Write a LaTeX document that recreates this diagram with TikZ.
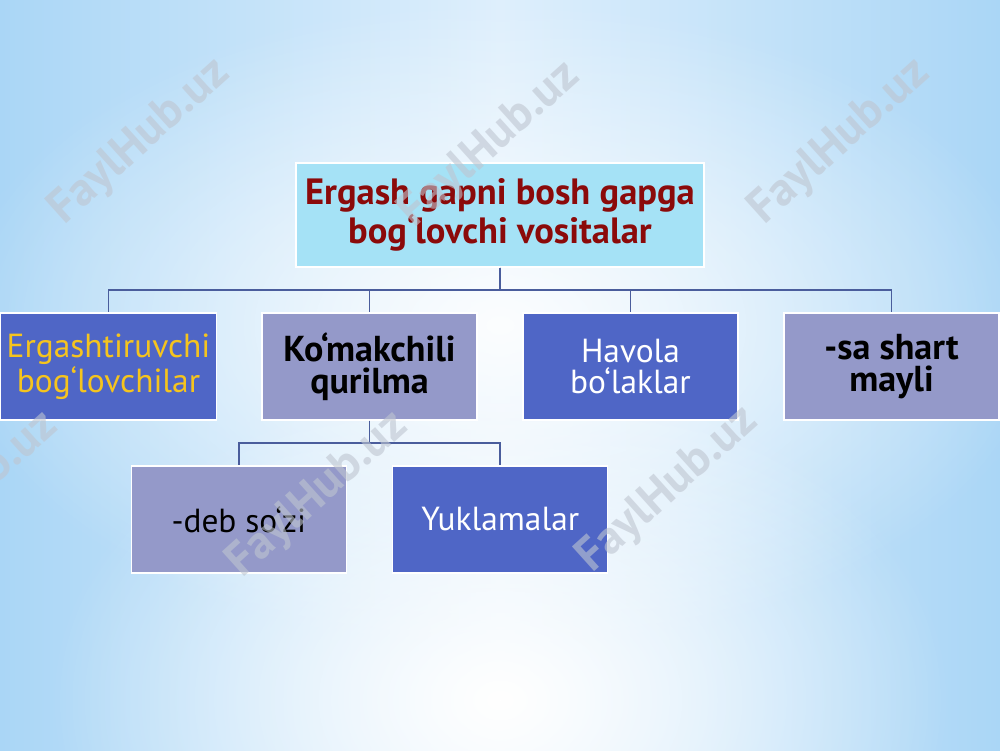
\documentclass[tikz,border=0pt]{standalone}
\usepackage{fontspec}
\setmainfont{PT Sans}
\usetikzlibrary{trees, calc, fadings}
\definecolor{sideblue}{RGB}{170,214,246}
\definecolor{paleblue}{RGB}{222,239,252}
\definecolor{rootcyan}{RGB}{165,226,246}
\definecolor{titlered}{RGB}{139,10,10}
\definecolor{deepblue}{RGB}{79,102,198}
\definecolor{lavender}{RGB}{148,153,201}
\definecolor{boxyellow}{RGB}{245,196,30}
\definecolor{linkblue}{RGB}{74,93,156}
\definecolor{markgray}{RGB}{190,197,208}
\tikzfading[name=glow, inner color=transparent!0, outer color=transparent!100]
\def \EGBG {Ergash gapni bosh gapga\\bog‘lovchi vositalar}

\begin{document}
\begin{tikzpicture}[
	  rootbox/.style={
	  	rectangle,
	  	draw=white,
	  	line width=0.6pt,
	  	fill=rootcyan,
	  	text=titlered,
	  	font=\bfseries\fontsize{20.8}{21}\selectfont,
	  	minimum width=8.16cm,
	  	minimum height=2.08cm,
	  	align=center
	  },
	  darkbox/.style={
		  rectangle,
		  draw=white,
		  line width=0.6pt,
		  fill=deepblue,
		  text=white,
		  font=\fontsize{19}{18}\selectfont,
		  minimum width=4.3cm,
		  minimum height=2.14cm,
		  align=center
	  },
	  lightbox/.style={
		  rectangle,
		  draw=white,
		  line width=0.6pt,
		  fill=lavender,
		  text=black,
		  font=\fontsize{19}{18}\selectfont,
		  minimum width=4.3cm,
		  minimum height=2.14cm,
		  align=center
	  },
	  boldtext/.style={font=\bfseries\fontsize{20.5}{18}\selectfont},
	  watermark/.style={
		  rotate=42,
		  text=markgray,
		  opacity=0.6,
		  font=\bfseries\fontsize{27}{27}\selectfont
	  },
	  edge from parent/.style={draw=linkblue, line width=1.1pt},
	  edge from parent fork mid/.style={
		  edge from parent path={(\tikzparentnode.south) |- ($(\tikzparentnode.south)!.5!(\tikzchildnode.north)$) -| (\tikzchildnode.north)}
	  },
	  level 1/.style={sibling distance=5.22cm, level distance=3.03cm},
	  level 2/.style={sibling distance=5.23cm, level distance=3.06cm}]
	% Background
	\useasboundingbox (0,0) rectangle (20,15);
	\shade[left color=sideblue, right color=sideblue, middle color=paleblue] (0,0) rectangle (20,15);
	\fill[white, opacity=0.9, path fading=glow] (10,8.5) ellipse (11 and 6.5);
	\fill[white, path fading=glow] (10,1) ellipse (9 and 6.5);
	% Root
	\node[rootbox] (root) at (10,10.7) {\EGBG}
		[edge from parent fork mid]
		% Children
		child {node[darkbox, text=boxyellow] (ergash) {Ergashtiruvchi\\bog‘lovchilar}}
		child {node[lightbox, boldtext] (komak) {Ko‘makchili\\qurilma}
			child {node[lightbox] (deb) {-deb so‘zi}}
			child {node[darkbox] (yukla) {Yuklamalar}}}
		child {node[darkbox] (havola) {Havola\\bo‘laklar}}
		child {node[lightbox, boldtext] (shart) {-sa shart\\mayli}};
	% Watermarks
	\foreach \x/\y [count=\i] in {2.8/12.16, 9.8/12.1, 16.8/12.16, -0.64/5.1, 6.36/5.1, 13.36/5.2}
		\node[watermark] (wmark\i) at (\x,\y) {FaylHub.uz};
\end{tikzpicture}
\end{document}
